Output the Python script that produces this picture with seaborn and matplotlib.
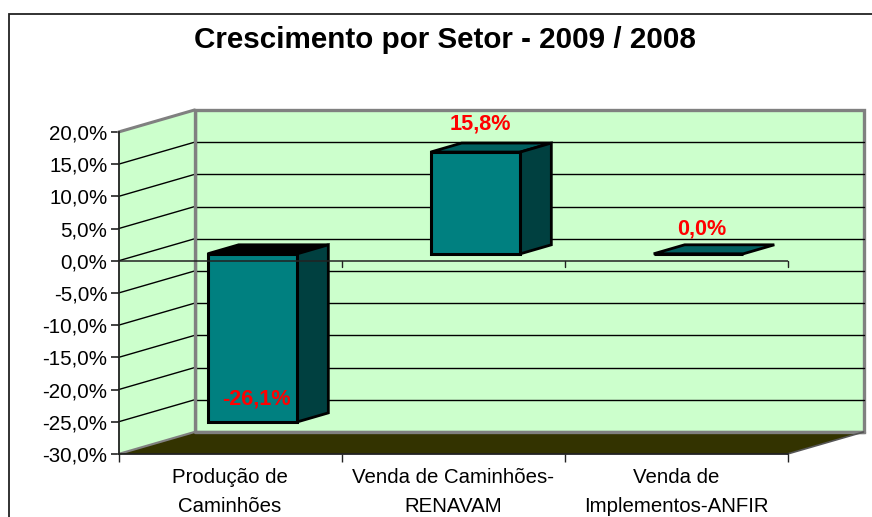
import matplotlib
matplotlib.use("Agg")
import matplotlib.pyplot as plt
from matplotlib.patches import Polygon, Rectangle
from matplotlib.transforms import Affine2D
import pandas as pd
import seaborn as sns

categorias = ["Produção de\nCaminhões", "Venda de Caminhões-\nRENAVAM", "Venda de\nImplementos-ANFIR"]
crescimento = [-26.1, 15.8, 0.0]
rotulos = ["-26,1%", "15,8%", "0,0%"]
y_ticks = [20, 15, 10, 5, 0, -5, -10, -15, -20, -25, -30]
titulo = "Crescimento por Setor - 2009 / 2008"

W, H = 872, 517
# deslocamentos da perspectiva, em pixels
PROF = (76, 22)
BARRA_FRENTE = (22.5, 7)
BARRA_PROF = (31, 9)
ROTULO_DESL = [(26, 30), (27, 35), (26, 32)]

sns.set_theme(style="white")
plt.rcParams["font.family"] = ["Liberation Sans", "DejaVu Sans"]

fig = plt.figure(figsize=(W / 100, H / 100), dpi=100)
fig.patch.set_facecolor("white")
ax = fig.add_axes([118.5 / W, 1 - 454 / H, 669 / W, 322 / H])
ax.patch.set_visible(False)

df = pd.DataFrame({"setor": categorias, "valor": crescimento})
sns.barplot(data=df, x="setor", y="valor", color="#008080", width=0.402, saturation=1,
            edgecolor="black", linewidth=2.2, ax=ax, zorder=5)
ax.set_xlim(-0.5, 2.5)
ax.set_ylim(-30, 20)
ax.set_xlabel("")
ax.set_ylabel("")

fundo = ax.transData + Affine2D().translate(*PROF)
xa, xb = ax.get_xlim()
ya, yb = ax.get_ylim()

# moldura do grafico
fig.add_artist(Rectangle((8.5 / W, -0.01), 1, 1 - 14.5 / H + 0.01, transform=fig.transFigure,
                         fill=False, edgecolor="#222222", linewidth=1.3))

# paredes e chao
ax.add_patch(Rectangle((xa, ya), xb - xa, yb - ya, transform=fundo, facecolor="#CCFFCC",
                       edgecolor="#808080", linewidth=2.4, clip_on=False, zorder=1))
lateral = ax.transData.transform([(xa, ya), (xa, yb)])
ax.add_patch(Polygon([lateral[0], lateral[1], lateral[1] + PROF, lateral[0] + PROF], closed=True,
                     transform=None, facecolor="#CCFFCC", edgecolor="none", clip_on=False, zorder=1.5))
ax.plot([xa, xa], [ya, yb], transform=fundo, color="#808080", lw=2.4, clip_on=False, zorder=2.5)
ax.plot([lateral[1][0], lateral[1][0] + PROF[0]], [lateral[1][1], lateral[1][1] + PROF[1]], transform=None,
        color="#808080", lw=2.2, clip_on=False, zorder=2.5)
chao = ax.transData.transform([(xa, ya), (xb, ya)])
ax.add_patch(Polygon([chao[0], chao[1], chao[1] + PROF, chao[0] + PROF], closed=True, transform=None,
                     facecolor="#333300", edgecolor="none", clip_on=False, zorder=3))
ax.plot([xa, xb], [ya, ya], transform=fundo, color="#808080", lw=2.4, clip_on=False, zorder=3.1)
ax.plot([chao[1][0], chao[1][0] + PROF[0]], [chao[1][1], chao[1][1] + PROF[1]], transform=None,
        color="#555555", lw=1.2, clip_on=False, zorder=3.2)
ax.plot([chao[0][0], chao[0][0] + PROF[0]], [chao[0][1], chao[0][1] + PROF[1]], transform=None,
        color="#808080", lw=1.6, clip_on=False, zorder=3.2)

# grades
for v in y_ticks[1:-1]:
    ax.plot([xa, xb], [v, v], transform=fundo, color="black", lw=1.0, clip_on=False, zorder=2)
    p = ax.transData.transform((xa, v))
    ax.plot([p[0], p[0] + PROF[0]], [p[1], p[1] + PROF[1]], transform=None, color="black", lw=1.0,
            clip_on=False, zorder=2)

# barras em perspectiva
desloc = ax.transData + Affine2D().translate(BARRA_FRENTE[0], BARRA_FRENTE[1])
for barra, valor in zip(ax.patches[:len(crescimento)], crescimento):
    barra.set_transform(desloc)
    barra.set_clip_on(False)
    x0, x1 = barra.get_x(), barra.get_x() + barra.get_width()
    pts = desloc.transform([(x0, valor), (x1, valor), (x1, 0), (x0, 0)])
    y_topo = pts[:, 1].max()
    y_base = pts[:, 1].min()
    esq, dir_ = pts[0, 0], pts[1, 0]
    dx, dy = BARRA_PROF
    cor_topo = "black" if valor < 0 else "#006060"
    ax.add_patch(Polygon([(esq, y_topo), (dir_, y_topo), (dir_ + dx, y_topo + dy), (esq + dx, y_topo + dy)],
                         closed=True, transform=None, facecolor=cor_topo, edgecolor="black", linewidth=2.0,
                         clip_on=False, zorder=4.5))
    if valor != 0:
        ax.add_patch(Polygon([(dir_, y_topo), (dir_ + dx, y_topo + dy), (dir_ + dx, y_base + dy), (dir_, y_base)],
                             closed=True, transform=None, facecolor="#004040", edgecolor="black", linewidth=2.0,
                             clip_on=False, zorder=4.5))

# linha do zero na frente, com as marcas
ax.axhline(0, color="#222222", lw=1.1, zorder=6)
ax.set_xticks([0, 1, 2])
ax.set_xticklabels(categorias, fontsize=14.7, color="black", linespacing=1.65)
ax.set_xticks([-0.5, 0.5, 1.5, 2.5], minor=True)
ax.set_yticks(y_ticks)
ax.set_yticklabels([f"{v},0%" for v in y_ticks], fontsize=14.8, color="black")
ax.tick_params(axis="x", which="major", length=0, pad=10)
ax.tick_params(axis="x", which="minor", bottom=True, length=6, width=1, color="#222222")
ax.tick_params(axis="y", left=True, length=6, width=1.2, color="#222222", pad=2)
for marca in [0.5, 1.5, 2.5]:
    ax.plot([marca, marca], [0, -0.9], color="#222222", lw=1.0, clip_on=False, zorder=6)

for s in ["top", "right"]:
    ax.spines[s].set_visible(False)
for s in ["left", "bottom"]:
    ax.spines[s].set_color("#222222")
    ax.spines[s].set_linewidth(1.3)
    ax.spines[s].set_zorder(7)

for i, (valor, rotulo, (ox, oy)) in enumerate(zip(crescimento, rotulos, ROTULO_DESL)):
    ax.annotate(rotulo, (i, valor), xytext=(ox, oy), textcoords="offset pixels", ha="center", va="center",
                color="#FF0000", fontsize=15.6, fontweight="bold", annotation_clip=False, zorder=8)

fig.text(445 / W, 1 - 40 / H, titulo, ha="center", va="center", fontsize=21.3, fontweight="bold", color="black")

fig.savefig("out.png", dpi=100)
